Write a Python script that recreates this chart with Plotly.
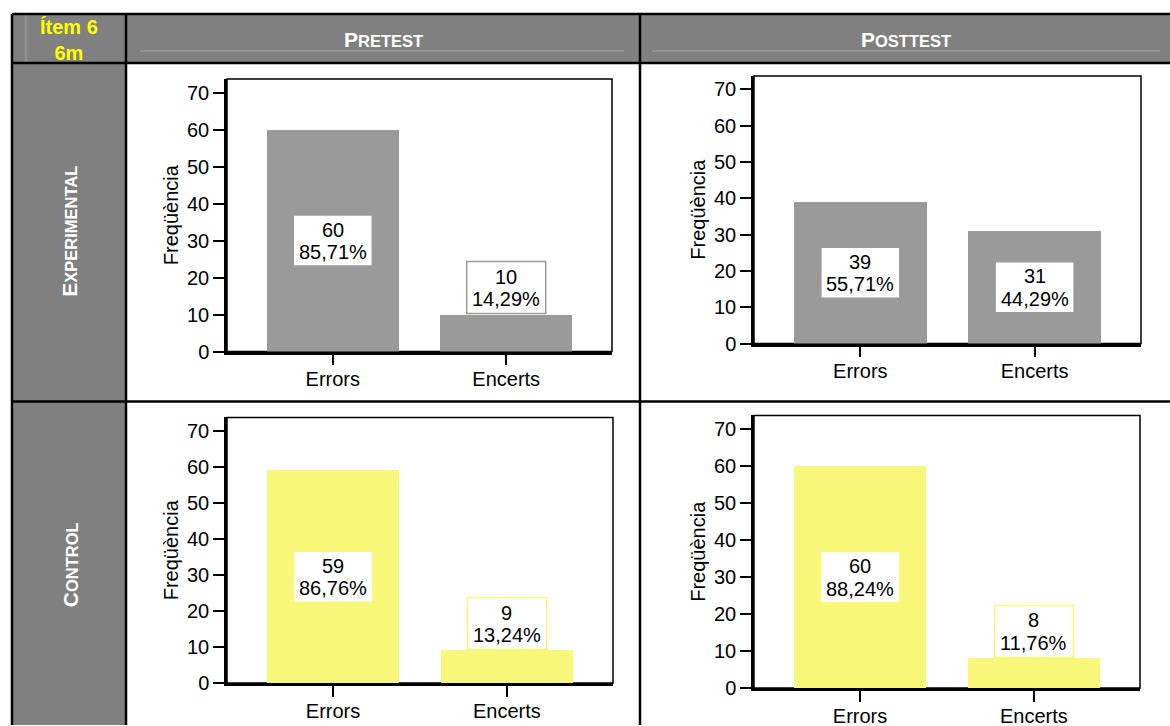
import plotly.graph_objects as go

# Frequencies per item answer, by group and test moment
categories = ["Errors", "Encerts"]

exp_pre = [60, 10]
exp_pre_pct = ["85,71%", "14,29%"]
exp_post = [39, 31]
exp_post_pct = ["55,71%", "44,29%"]

ctl_pre = [59, 9]
ctl_pre_pct = ["86,76%", "13,24%"]
ctl_post = [60, 8]
ctl_post_pct = ["88,24%", "11,76%"]

y_ticks = [0, 10, 20, 30, 40, 50, 60, 70]

W = 1170
H = 736          # layout height
VIEW_H = 726     # visible drawing height used for placing elements
FONT = "Liberation Sans, Arial, sans-serif"
GREY_BAR = "#9a9a9a"
YELLOW_BAR = "#f9f77a"
HEADER = "#808080"
FS = 20


def px(x):
    return x / W


def py(y):
    return 1 - y / VIEW_H


# (values, percentages, bar colour, x pixel span, y pixel span)
panels = [
    (exp_pre, exp_pre_pct, GREY_BAR, (227, 612), (79, 352)),
    (exp_post, exp_post_pct, GREY_BAR, (754, 1141), (76, 344)),
    (ctl_pre, ctl_pre_pct, YELLOW_BAR, (227, 613), (418, 684)),
    (ctl_post, ctl_post_pct, YELLOW_BAR, (754, 1140), (416, 689)),
]

fig = go.Figure()
annotations = []
shapes = []
layout_axes = {}
tick_font = dict(family=FONT, size=FS, color="black")

for i, (vals, pcts, color, (x0, x1), (y0, y1)) in enumerate(panels, start=1):
    sfx = "" if i == 1 else str(i)
    xa, ya = f"x{sfx}", f"y{sfx}"
    fig.add_trace(go.Bar(
        x=categories, y=vals, width=0.76,
        marker=dict(color=color, line=dict(width=0)),
        xaxis=xa, yaxis=ya, showlegend=False, hoverinfo="x+y",
    ))
    layout_axes[f"xaxis{sfx}"] = dict(
        domain=[px(x0), px(x1)], anchor=ya, type="category",
        range=[-0.61, 1.61], showgrid=False, zeroline=False,
        showline=True, linecolor="black", linewidth=2.5,
        ticks="outside", ticklen=11, tickwidth=2, tickcolor="black",
        ticklabelstandoff=-3, layer="below traces",
        tickfont=tick_font, fixedrange=True,
    )
    layout_axes[f"yaxis{sfx}"] = dict(
        domain=[py(y1), py(y0)], anchor=xa,
        range=[0, 73.7], tickvals=y_ticks, showgrid=False, zeroline=False,
        showline=True, linecolor="black", linewidth=2.5,
        ticks="outside", ticklen=11, tickwidth=2, tickcolor="black",
        tickfont=tick_font,
        title=dict(text="Freqüència", standoff=3, font=tick_font),
        fixedrange=True,
    )
    # plot frame (top / right)
    shapes.append(dict(type="rect", xref=f"{xa} domain", yref=f"{ya} domain",
                       x0=0, x1=1, y0=0, y1=1,
                       line=dict(color="black", width=1.5), layer="below"))
    # value labels: centred inside tall bars, sitting on top of short ones
    for k, (v, p) in enumerate(zip(vals, pcts)):
        inside = v >= 20
        anchor = v / 2 if inside else v
        b0, b1 = (-25.5, 25.5) if inside else (1, 53)
        mid = (b0 + b1) / 2
        shapes.append(dict(
            type="rect", xref=xa, yref=ya,
            xsizemode="pixel", ysizemode="pixel",
            xanchor=k, yanchor=anchor, x0=-39.5, x1=39.5, y0=b0, y1=b1,
            fillcolor="white", line=dict(color=color, width=1.5), layer="above",
        ))
        for txt, dy in ((str(v), mid + 11), (p, mid - 11.5)):
            annotations.append(dict(
                xref=xa, yref=ya, x=k, y=anchor, yshift=dy,
                xanchor="center", yanchor="middle",
                text=txt, showarrow=False,
                font=dict(family=FONT, size=FS, color="black"),
            ))

# Table background cells
shapes += [
    dict(type="rect", xref="paper", yref="paper", x0=px(12), x1=1, y0=py(63), y1=py(14),
         fillcolor=HEADER, line=dict(width=0), layer="below"),
    dict(type="rect", xref="paper", yref="paper", x0=px(12), x1=px(126), y0=0, y1=py(63),
         fillcolor=HEADER, line=dict(width=0), layer="below"),
]
# thin light rules in the header
for (a, b, c, d) in [(26, 14, 26, 63), (140, 51, 624, 51), (652, 51, 1160, 51)]:
    shapes.append(dict(type="line", xref="paper", yref="paper",
                       x0=px(a), y0=py(b), x1=px(c), y1=py(d),
                       line=dict(color="#a8a8a8", width=1), layer="below"))
# Table borders
hlines = [14, 63, 402]
vlines = [12, 126, 640]
for yy in hlines:
    shapes.append(dict(type="line", xref="paper", yref="paper",
                       x0=px(12), y0=py(yy), x1=1, y1=py(yy),
                       line=dict(color="black", width=2.5), layer="above"))
for xx in vlines:
    shapes.append(dict(type="line", xref="paper", yref="paper",
                       x0=px(xx), y0=py(14), x1=px(xx), y1=0,
                       line=dict(color="black", width=2.5), layer="above"))

small = "font-size:16.5px"
header_texts = [
    (383, 40, f"<b>P<span style='{small}'>RETEST</span></b>", 0),
    (906, 40, f"<b>P<span style='{small}'>OSTTEST</span></b>", 0),
    (70, 232, f"<b>E<span style='{small}'>XPERIMENTAL</span></b>", -90),
    (70, 566, f"<b>C<span style='{small}'>ONTROL</span></b>", -90),
]
for x, y, t, ang in header_texts:
    annotations.append(dict(xref="paper", yref="paper", x=px(x), y=py(y),
                            xanchor="center", yanchor="middle", text=t,
                            textangle=ang, showarrow=False,
                            font=dict(family=FONT, size=21, color="white")))

annotations.append(dict(xref="paper", yref="paper", x=px(69), y=py(40),
                        xanchor="center", yanchor="middle",
                        text="<b>Ítem 6<br>6m</b>", showarrow=False,
                        font=dict(family=FONT, size=20, color="#ffff00")))

fig.update_layout(
    width=W, height=H, margin=dict(l=0, r=0, t=0, b=0), autosize=False,
    paper_bgcolor="white", plot_bgcolor="white",
    annotations=annotations, shapes=shapes, bargap=0,
    font=dict(family=FONT),
    **layout_axes,
)

fig.write_html("out.html", config={"displayModeBar": False, "responsive": False})
